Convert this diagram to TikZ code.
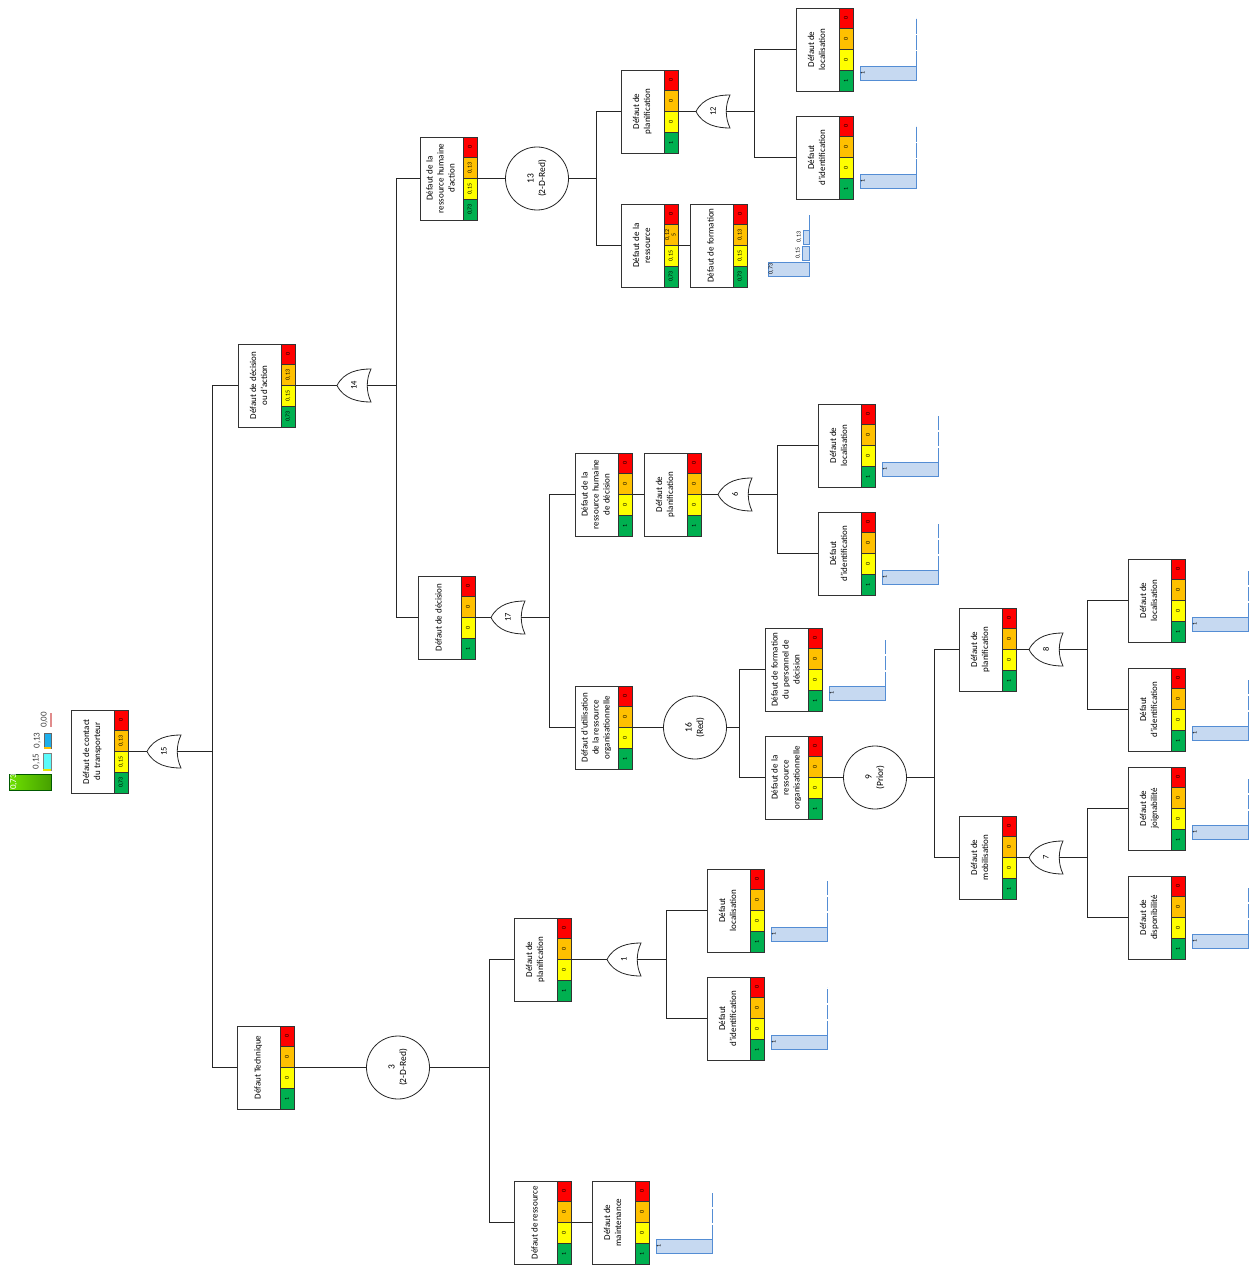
\documentclass[tikz,border=0pt]{standalone}
\usepackage{fontspec}
\setmainfont{Carlito}
\usepackage{graphicx}
\usetikzlibrary{positioning,calc}
\definecolor{cellred}{RGB}{255,0,0}
\definecolor{cellorange}{RGB}{255,192,0}
\definecolor{cellyellow}{RGB}{255,255,0}
\definecolor{cellgreen}{RGB}{0,176,80}
\definecolor{barfill}{RGB}{198,217,241}
\definecolor{barline}{RGB}{84,141,212}
\definecolor{leggreenA}{RGB}{110,225,0}
\definecolor{leggreenB}{RGB}{70,160,0}
\definecolor{legcyan}{RGB}{90,250,250}
\definecolor{legblue}{RGB}{30,175,235}
\definecolor{legred}{RGB}{225,140,140}
\tikzset{
  evbox/.style={draw=black!80,fill=white,line width=0.8pt,minimum width=43pt,minimum height=83pt,
    inner sep=0pt,outer sep=0pt,font=\fontsize{9}{11}\selectfont},
  cell/.style={draw=black!80,line width=0.8pt,minimum width=14pt,minimum height=20.75pt,
    inner sep=0pt,outer sep=0pt,font=\fontsize{6}{6.5}\selectfont},
  gatenum/.style={minimum width=34pt,minimum height=33pt,inner sep=0pt,outer sep=0pt,
    font=\fontsize{8.5}{9}\selectfont},
  gateline/.style={draw=black!85,line width=0.8pt,fill=white},
  cond/.style={circle,draw=black!85,fill=white,line width=0.8pt,minimum size=63pt,inner sep=0pt,
    outer sep=0pt,font=\fontsize{9.5}{11.5}\selectfont},
  link/.style={draw=black!85,line width=0.8pt},
  valbar/.style={draw=barline,fill=barfill,line width=0.8pt,minimum width=56pt,minimum height=14pt,
    inner sep=0pt,outer sep=0pt},
  barnum/.style={inner sep=0.5pt,font=\fontsize{6}{6.5}\selectfont},
  baraxis/.style={draw=barline,line width=0.8pt,dash pattern=on 14.5pt off 1.5pt},
  legtxt/.style={inner sep=0pt,font=\fontsize{9}{10}\selectfont,text=black!75},
}
% event box with its coloured strip
\newcommand{\evt}[8]{%
  \node[evbox] (#1) at (#2+21.5,#3+41.5) {\rotatebox{90}{\begin{tabular}{@{}c@{}}#4\end{tabular}}};
  \node[cell,fill=cellred,anchor=north west] (#1-1) at (#1.north east) {\rotatebox{90}{#5}};
  \node[cell,fill=cellorange,below=0pt of #1-1] (#1-2) {\rotatebox{90}{#6}};
  \node[cell,fill=cellyellow,below=0pt of #1-2] (#1-3) {\rotatebox{90}{#7}};
  \node[cell,fill=cellgreen,below=0pt of #1-3] (#1-4) {\rotatebox{90}{#8}};
}
% OR gate pointing left
\newcommand{\orgate}[4]{%
  \draw[gateline] (#2-17,#3) .. controls (#2-10,#3-14) and (#2+5,#3-16.5) .. (#2+17,#3-16.5)
    .. controls (#2+12,#3-6) and (#2+12,#3+6) .. (#2+17,#3+16.5)
    .. controls (#2+5,#3+16.5) and (#2-10,#3+14) .. cycle;
  \node[gatenum] (#1) at (#2,#3) {\rotatebox{90}{#4}};
}
% bar of a leaf event
\newcommand{\leafbar}[1]{%
  \node[valbar,anchor=west] (#1-b) at ([xshift=7pt,yshift=-23.5pt]#1-2.south east) {};
  \node[barnum,anchor=west] (#1-n) at (#1-b.west) {\rotatebox{90}{1}};
  \draw[baraxis] (#1-b.north east) -- ++(0,-48);
}

\begin{document}
\begin{tikzpicture}[x=1pt,y=-1pt]
  \useasboundingbox (0,0) rectangle (1253,1265);

  % legend
  \node[draw=green!35!black,left color=leggreenA,right color=leggreenB,minimum width=42pt,
    minimum height=16pt,inner sep=0pt,outer sep=0pt,anchor=east] (leg73) at (51,782) {};
  \node[legtxt,text=white,anchor=west] (leg73t) at ([xshift=1pt]leg73.west) {\rotatebox{90}{0,73}};
  \node[draw=black!50,fill=legcyan,minimum width=8pt,minimum height=17pt,inner sep=0pt,
    outer sep=0pt,anchor=east] (leg15) at (51,761.5) {};
  \draw[cellyellow!90!black,line width=1.5pt] (leg15.south west) -- (leg15.south east);
  \node[draw=black!60,fill=legblue,minimum width=7pt,minimum height=15pt,inner sep=0pt,
    outer sep=0pt,anchor=east] (leg13) at (51,740.5) {};
  \draw[cellorange,line width=1.5pt] (leg13.south west) -- (leg13.south east);
  \node[fill=legred,minimum width=2pt,minimum height=14pt,inner sep=0pt,outer sep=0pt,
    anchor=east] (leg00) at (52,720) {};
  \node[legtxt,left=3pt of leg15] (leg15t) {\rotatebox{90}{0,15}};
  \node[legtxt,left=3pt of leg13] (leg13t) {\rotatebox{90}{0,13}};
  \node[legtxt,left=2pt of leg00] (leg00t) {\rotatebox{90}{0,00}};

  % events
  \evt{top}{71}{710}{Défaut de contact\\du transporteur}{0}{0,13}{0,15}{0,73}
  \evt{decact}{238}{344}{Défaut de décision\\ou d'action}{0}{0,13}{0,15}{0,73}
  \evt{tech}{237}{1026}{Défaut Technique}{0}{0}{0}{1}
  \evt{rhact}{420}{137}{Défaut de la\\ressource humaine\\d'action}{0}{0,13}{0,15}{0,73}
  \evt{plana}{621}{70}{Défaut de\\planification}{0}{0}{0}{1}
  \evt{loca}{796}{8}{Défaut de\\localisation}{0}{0}{0}{1}
  \evt{identa}{796}{116}{Défaut\\d'identification}{0}{0}{0}{1}
  \evt{resa}{621}{204}{Défaut de la\\ressource}{0}{\begin{tabular}{@{}c@{}}0,12\\5\end{tabular}}{0,15}{0,73}
  \evt{forma}{690}{204}{Défaut de formation}{0}{0,13}{0,15}{0,73}
  \evt{dec}{418}{576}{Défaut de décision}{0}{0}{0}{1}
  \evt{rhdec}{575}{453}{Défaut de la\\ressource humaine\\de décision}{0}{0}{0}{1}
  \evt{pland}{644}{453}{Défaut de\\planification}{0}{0}{0}{1}
  \evt{locd}{818}{404}{Défaut de\\localisation}{0}{0}{0}{1}
  \evt{identd}{818}{512}{Défaut\\d'identification}{0}{0}{0}{1}
  \evt{util}{575}{686}{Défaut d'utilisation\\de la ressource\\organisationnelle}{0}{0}{0}{1}
  \evt{formp}{765}{628}{Défaut de formation\\du personnel de\\décision}{0}{0}{0}{1}
  \evt{resorg}{765}{736}{Défaut de la\\ressource\\organisationnelle}{0}{0}{0}{1}
  \evt{plano}{959}{608}{Défaut de\\planification}{0}{0}{0}{1}
  \evt{loco}{1128}{559}{Défaut de\\localisation}{0}{0}{0}{1}
  \evt{idento}{1128}{668}{Défaut\\d'identification}{0}{0}{0}{1}
  \evt{mob}{959}{816}{Défaut de\\mobilisation}{0}{0}{0}{1}
  \evt{joig}{1128}{767}{Défaut de\\joignabilité}{0}{0}{0}{1}
  \evt{dispo}{1128}{876}{Défaut de\\disponibilité}{0}{0}{0}{1}
  \evt{plant}{514}{918}{Défaut de\\planification}{0}{0}{0}{1}
  \evt{loct}{707}{869}{Défaut\\localisation}{0}{0}{0}{1}
  \evt{identt}{707}{977}{Défaut\\d'identification}{0}{0}{0}{1}
  \evt{rest}{514}{1181}{Défaut de ressource}{0}{0}{0}{1}
  \evt{maint}{592}{1181}{Défaut de\\maintenance}{0}{0}{0}{1}

  % gates
  \orgate{g15}{164}{751.5}{15}
  \orgate{g14}{354}{385.5}{14}
  \orgate{g12}{713}{111.5}{12}
  \orgate{g17}{508}{617.5}{17}
  \orgate{g6}{735}{494.5}{6}
  \orgate{g8}{1046}{649.5}{8}
  \orgate{g7}{1046}{857.5}{7}
  \orgate{g1}{624}{959.5}{1}
  \node[cond] (c3) at (398,1067.5) {\rotatebox{90}{\begin{tabular}{@{}c@{}}3\\(2-D-Red)\end{tabular}}};
  \node[cond] (c13) at (537,178.5) {\rotatebox{90}{\begin{tabular}{@{}c@{}}13\\(2-D-Red)\end{tabular}}};
  \node[cond] (c16) at (695,727.5) {\rotatebox{90}{\begin{tabular}{@{}c@{}}16\\(Red)\end{tabular}}};
  \node[cond] (c9) at (875,777.5) {\rotatebox{90}{\begin{tabular}{@{}c@{}}9\\(Prior)\end{tabular}}};

  % junctions
  \coordinate (j15) at (212,751.5);
  \coordinate (j14) at (396,385.5);
  \coordinate (j13) at (596,178.5);
  \coordinate (j12) at (754,111.5);
  \coordinate (j17) at (549,617.5);
  \coordinate (j6) at (777,494.5);
  \coordinate (j16) at (739,727.5);
  \coordinate (j9) at (934,777.5);
  \coordinate (j8) at (1087,649.5);
  \coordinate (j7) at (1087,857.5);
  \coordinate (j3) at (489,1067.5);
  \coordinate (j1) at (666,959.5);

  % connectors
  \draw[link] (top-2.south east) -- (g15.west);
  \draw[link] ([xshift=-4pt]g15.east) -- (j15);
  \draw[link] (j15) |- (decact.west);
  \draw[link] (j15) |- (tech.west);
  \draw[link] (decact-2.south east) -- (g14.west);
  \draw[link] ([xshift=-4pt]g14.east) -- (j14);
  \draw[link] (j14) |- (rhact.west);
  \draw[link] (j14) |- (dec.west);
  \draw[link] (rhact-2.south east) -- (c13.west);
  \draw[link] (c13.east) -- (j13);
  \draw[link] (j13) |- (plana.west);
  \draw[link] (j13) |- (resa.west);
  \draw[link] (resa-2.south east) -- (forma.west);
  \draw[link] (plana-2.south east) -- (g12.west);
  \draw[link] ([xshift=-4pt]g12.east) -- (j12);
  \draw[link] (j12) |- (loca.west);
  \draw[link] (j12) |- (identa.west);
  \draw[link] (dec-2.south east) -- (g17.west);
  \draw[link] ([xshift=-4pt]g17.east) -- (j17);
  \draw[link] (j17) |- (rhdec.west);
  \draw[link] (j17) |- (util.west);
  \draw[link] (rhdec-2.south east) -- (pland.west);
  \draw[link] (pland-2.south east) -- (g6.west);
  \draw[link] ([xshift=-4pt]g6.east) -- (j6);
  \draw[link] (j6) |- (locd.west);
  \draw[link] (j6) |- (identd.west);
  \draw[link] (util-2.south east) -- (c16.west);
  \draw[link] (c16.east) -- (j16);
  \draw[link] (j16) |- (formp.west);
  \draw[link] (j16) |- (resorg.west);
  \draw[link] (resorg-2.south east) -- (c9.west);
  \draw[link] (c9.east) -- (j9);
  \draw[link] (j9) |- (plano.west);
  \draw[link] (j9) |- (mob.west);
  \draw[link] (plano-2.south east) -- (g8.west);
  \draw[link] ([xshift=-4pt]g8.east) -- (j8);
  \draw[link] (j8) |- (loco.west);
  \draw[link] (j8) |- (idento.west);
  \draw[link] (mob-2.south east) -- (g7.west);
  \draw[link] ([xshift=-4pt]g7.east) -- (j7);
  \draw[link] (j7) |- (joig.west);
  \draw[link] (j7) |- (dispo.west);
  \draw[link] (tech-2.south east) -- (c3.west);
  \draw[link] (c3.east) -- (j3);
  \draw[link] (j3) |- (plant.west);
  \draw[link] (j3) |- (rest.west);
  \draw[link] (plant-2.south east) -- (g1.west);
  \draw[link] ([xshift=-4pt]g1.east) -- (j1);
  \draw[link] (j1) |- (loct.west);
  \draw[link] (j1) |- (identt.west);
  \draw[link] (rest-2.south east) -- (maint.west);

  % bars
  \leafbar{loca}
  \leafbar{identa}
  \leafbar{locd}
  \leafbar{identd}
  \leafbar{formp}
  \leafbar{loco}
  \leafbar{idento}
  \leafbar{joig}
  \leafbar{dispo}
  \leafbar{loct}
  \leafbar{identt}
  \leafbar{maint}
  \node[valbar,minimum width=41pt,anchor=east] (fa73) at (809,269) {};
  \node[barnum,anchor=west] (fa73t) at (fa73.west) {\rotatebox{90}{0,73}};
  \node[valbar,minimum width=7pt,anchor=east] (fa15) at (809,253) {};
  \node[barnum,left=1pt of fa15] (fa15t) {\rotatebox{90}{0,15}};
  \node[valbar,minimum width=6pt,anchor=east] (fa13) at (809,237) {};
  \node[barnum,left=1pt of fa13] (fa13t) {\rotatebox{90}{0,13}};
  \draw[baraxis] (fa13.north east) -- ++(0,-15);
\end{tikzpicture}
\end{document}
